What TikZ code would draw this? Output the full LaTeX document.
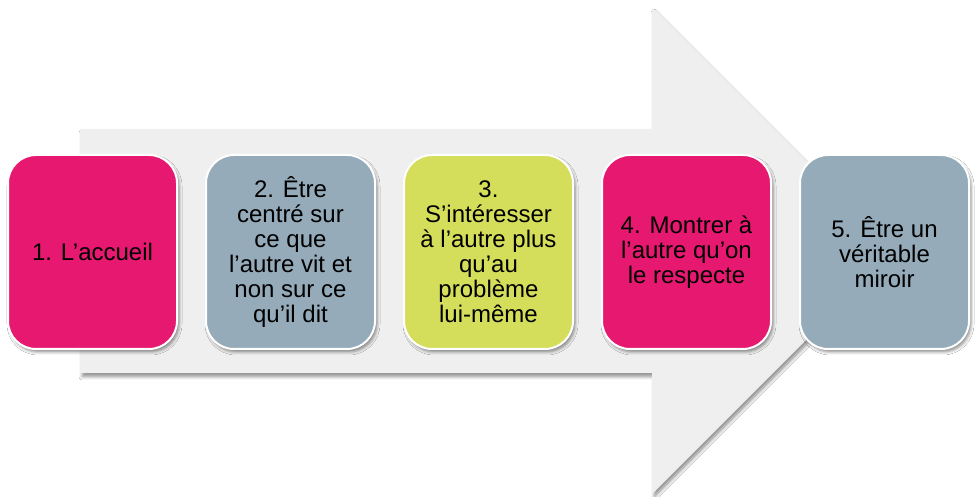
\documentclass[tikz,border=0pt]{standalone}
\usepackage{fontspec}
\setmainfont{Liberation Sans}
\usetikzlibrary{shadows.blur}
\definecolor{pinkc}{RGB}{230,24,112}
\definecolor{bluegreyc}{RGB}{149,171,185}
\definecolor{yellowc}{RGB}{213,222,91}
\definecolor{arrowgrey}{RGB}{239,239,239}
\tikzset{
  stepbox/.style={rectangle, rounded corners=28pt, draw=white, line width=2pt,
    minimum width=169pt, minimum height=194pt, align=center, text=black,
    font=\fontsize{24}{25}\selectfont,
    blur shadow={shadow xshift=2pt, shadow yshift=-3pt, shadow blur radius=3pt, shadow opacity=45}},
  bigarrow/.style={fill=arrowgrey,
    blur shadow={shadow xshift=2pt, shadow yshift=-4pt, shadow blur radius=3pt, shadow opacity=40}}
}
\begin{document}
\begin{tikzpicture}[x=1pt,y=1pt]
\useasboundingbox (0,0) rectangle (977,497);
\fill[white] (0,0) rectangle (977,497);
\path[bigarrow] (80,368) -- (652,368) -- (652,489) -- (895,246) -- (652,3) -- (652,124) -- (80,124) -- cycle;
\node[stepbox, fill=pinkc] (b1) at (92.5,245) {1. L’accueil};
\node[stepbox, fill=bluegreyc] (b2) at (290.5,245) {2. Être\\centré sur\\ce que\\l’autre vit et\\non sur ce\\qu’il dit};
\node[stepbox, fill=yellowc] (b3) at (488.5,245) {3.\\S’intéresser\\à l’autre plus\\qu’au\\problème\\lui-même};
\node[stepbox, fill=pinkc] (b4) at (686.5,245) {4. Montrer à\\l’autre qu’on\\le respecte};
\node[stepbox, fill=bluegreyc] (b5) at (884.5,245) {5. Être un\\véritable\\miroir};
\end{tikzpicture}
\end{document}
